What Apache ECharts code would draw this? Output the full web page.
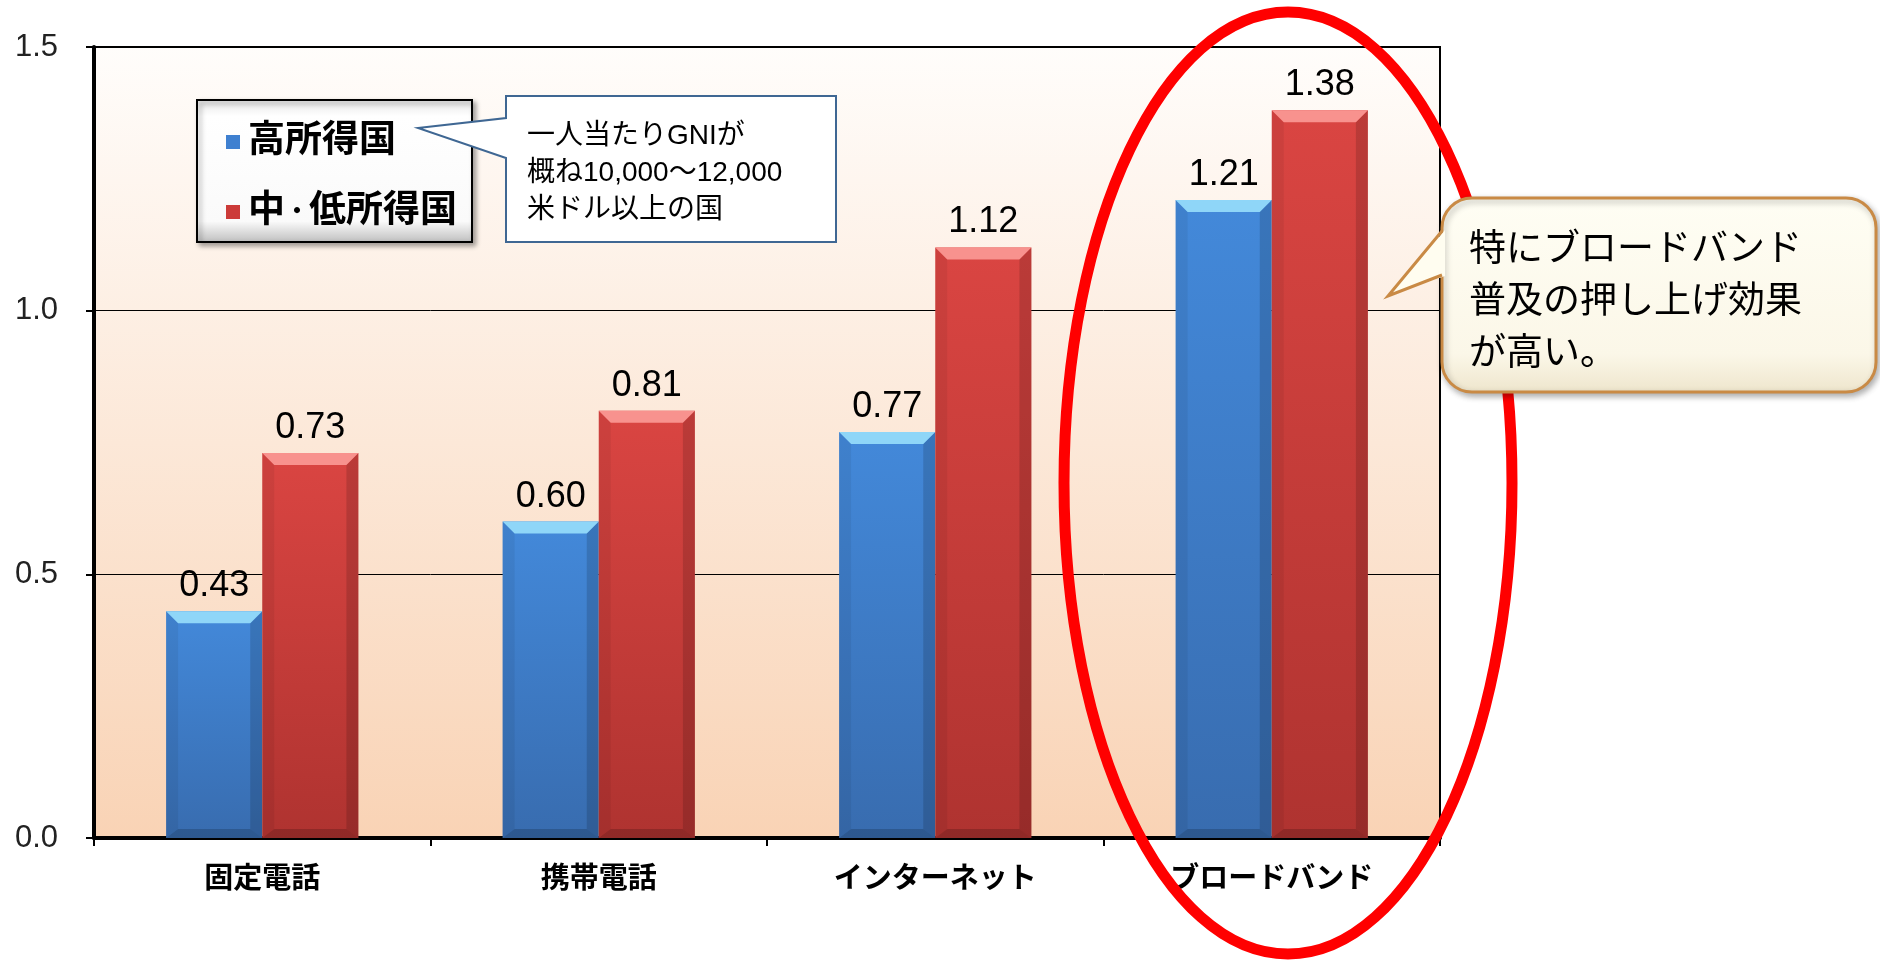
<!DOCTYPE html>
<html><head><meta charset="utf-8">
<script src="https://cdn.jsdelivr.net/npm/echarts@6/dist/echarts.min.js"></script>
<style>html,body{margin:0;padding:0;background:#fff}#c{width:1880px;height:960px}</style>
</head><body><div id="c"></div>
<script>
const categories = ['固定電話', '携帯電話', 'インターネット', 'ブロードバンド'];
const seriesNames = ['高所得国', '中・低所得国'];
const highIncome = [0.43, 0.60, 0.77, 1.21];
const lowMidIncome = [0.73, 0.81, 1.12, 1.38];
const noteLines = ['一人当たりGNIが', '概ね10,000〜12,000', '米ドル以上の国'];
const highlightLines = ['特にブロードバンド', '普及の押し上げ効果', 'が高い。'];

const FONT = "'Liberation Sans', Arial, 'Noto Sans CJK JP', sans-serif";
const BAR_RATIO = 96 / 336;
const palettes = [
  { main: ['#4389DA', '#386CAF'], top: '#8FD6F8', color: '#3F80D0' },
  { main: ['#DA4542', '#AF3330'], top: '#F8928E', color: '#CC3B39' }
];

function renderBar(side) {
  return function (params, api) {
    const cat = api.value(0), v = api.value(1);
    const base = api.coord([cat, 0]);
    const top = api.coord([cat, v]);
    const band = api.size([1, 0])[0];
    const w = band * BAR_RATIO;
    const x0 = side === 0 ? base[0] - w : base[0];
    const x1 = x0 + w;
    const yT = top[1], yB = base[1];
    const b = 12, bb = 9;
    const p = palettes[side];
    return {
      type: 'group',
      children: [
        { type: 'rect', shape: { x: x0, y: yT, width: w, height: yB - yT },
          style: { fill: new echarts.graphic.LinearGradient(0, 0, 0, 1, [
            { offset: 0, color: p.main[0] }, { offset: 1, color: p.main[1] }]) } },
        { type: 'polygon', shape: { points: [[x0, yT], [x0 + b, yT + b], [x0 + b, yB - bb], [x0, yB]] },
          style: { fill: 'rgba(0,0,0,0.06)' } },
        { type: 'polygon', shape: { points: [[x1, yT], [x1 - b, yT + b], [x1 - b, yB - bb], [x1, yB]] },
          style: { fill: 'rgba(0,0,0,0.14)' } },
        { type: 'polygon', shape: { points: [[x0, yB], [x0 + b, yB - bb], [x1 - b, yB - bb], [x1, yB]] },
          style: { fill: 'rgba(0,0,0,0.18)' } },
        { type: 'polygon', shape: { points: [[x0, yT], [x1, yT], [x1 - b, yT + b], [x0 + b, yT + b]] },
          style: { fill: p.top } },
        { type: 'text', style: { text: v.toFixed(2), x: (x0 + x1) / 2, y: yT - 7,
            align: 'center', verticalAlign: 'bottom', fill: '#000',
            font: '36px ' + FONT } }
      ]
    };
  };
}

const chart = echarts.init(document.getElementById('c'), null, { renderer: 'canvas' });

const c2 = { x0: 1442, y0: 198, x1: 1876, y1: 392, r: 30 };
const c2Fill = new echarts.graphic.LinearGradient(0, 0, 0, 1, [
  { offset: 0, color: '#FFFEF4' }, { offset: 0.8, color: '#FBF7E8' }, { offset: 1, color: '#EEE5CC' }]);

const option = {
  backgroundColor: '#fff',
  animation: false,
  color: [palettes[0].color, palettes[1].color],
  grid: {
    left: 94, right: 440, top: 47, bottom: 122,
    show: true, borderColor: '#000', borderWidth: 2,
    backgroundColor: new echarts.graphic.LinearGradient(0, 0, 0, 1, [
      { offset: 0, color: '#FFFDFB' }, { offset: 1, color: '#F9D3B5' }])
  },
  legend: {
    orient: 'vertical', left: 221, top: 117,
    itemWidth: 14, itemHeight: 14, itemGap: 30, icon: 'rect',
    data: seriesNames,
    formatter: name => name.split('・').map(s => `{n|${s}}`).join('{d|・}'),
    textStyle: { color: '#000', lineHeight: 40, fontFamily: FONT, padding: [0, 0, 0, 3],
      rich: {
        n: { fontSize: 37, fontWeight: 'bold', color: '#000', fontFamily: FONT, lineHeight: 40 },
        d: { fontSize: 24, fontWeight: 'bold', color: '#000', fontFamily: FONT, lineHeight: 40 }
      } },
    z: 20
  },
  xAxis: {
    type: 'category', data: categories,
    axisLine: { lineStyle: { color: '#000', width: 4 } },
    axisTick: { show: true, length: 8, lineStyle: { color: '#000', width: 2 } },
    axisLabel: { fontSize: 29, fontWeight: 'bold', color: '#000', margin: 27, fontFamily: FONT },
    splitLine: { show: false }
  },
  yAxis: {
    type: 'value', min: 0, max: 1.5, interval: 0.5,
    axisLine: { show: true, lineStyle: { color: '#000', width: 4 } },
    axisTick: { show: true, length: 8, lineStyle: { color: '#000', width: 2 } },
    axisLabel: { formatter: v => v.toFixed(1), fontSize: 31, color: '#222', margin: 36, fontFamily: FONT },
    splitLine: { show: true, lineStyle: { color: '#000', width: 1 } }
  },
  series: [
    { name: seriesNames[0], type: 'custom', renderItem: renderBar(0),
      itemStyle: { color: palettes[0].color },
      encode: { x: 0, y: 1 },
      data: highIncome.map((v, i) => [i, v]) },
    { name: seriesNames[1], type: 'custom', renderItem: renderBar(1),
      itemStyle: { color: palettes[1].color },
      encode: { x: 0, y: 1 },
      data: lowMidIncome.map((v, i) => [i, v]) }
  ],
  graphic: [
    { type: 'rect', z: 10, shape: { x: 197, y: 100, width: 275, height: 142 },
      style: {
        fill: new echarts.graphic.LinearGradient(0, 0, 0, 1, [
          { offset: 0, color: '#E6E6E6' }, { offset: 0.12, color: '#FFFFFF' },
          { offset: 0.85, color: '#FAFAFA' }, { offset: 1, color: '#BDBDBD' }]),
        stroke: '#000', lineWidth: 2,
        shadowColor: 'rgba(0,0,0,0.35)', shadowBlur: 5, shadowOffsetX: 3, shadowOffsetY: 3 } },
    { type: 'polygon', z: 10,
      shape: { points: [[506, 96], [836, 96], [836, 242], [506, 242], [506, 158], [418, 128], [506, 118]] },
      style: { fill: '#fff', stroke: '#3F6793', lineWidth: 2 } },
    ...noteLines.map((t, i) => ({ type: 'text', z: 11,
      style: { text: t, x: 527, y: 136 + i * 37, verticalAlign: 'middle', align: 'left',
        font: '28px ' + FONT, fill: '#000' } })),
    { type: 'ellipse', z: 100, shape: { cx: 1288, cy: 483, rx: 224, ry: 471 },
      style: { fill: 'none', stroke: '#FF0000', lineWidth: 11 } },
    { type: 'rect', z: 110, shape: { x: c2.x0, y: c2.y0, width: c2.x1 - c2.x0, height: c2.y1 - c2.y0, r: c2.r },
      style: { fill: c2Fill, stroke: '#C98A45', lineWidth: 3,
        shadowColor: 'rgba(0,0,0,0.3)', shadowBlur: 6, shadowOffsetX: 2, shadowOffsetY: 3 } },
    { type: 'polygon', z: 111, shape: { points: [[c2.x0 + 3, 230], [1388, 296], [c2.x0 + 3, 276]] },
      style: { fill: '#FFFDF0' } },
    { type: 'polyline', z: 112, shape: { points: [[c2.x0, 231], [1388, 296], [c2.x0, 275]] },
      style: { stroke: '#C98A45', lineWidth: 3, fill: null } },
    ...highlightLines.map((t, i) => ({ type: 'text', z: 113,
      style: { text: t, x: 1469, y: 251 + i * 52, verticalAlign: 'middle', align: 'left',
        font: '37px ' + FONT, fill: '#000' } }))
  ]
};
chart.setOption(option);
</script>
</body></html>
